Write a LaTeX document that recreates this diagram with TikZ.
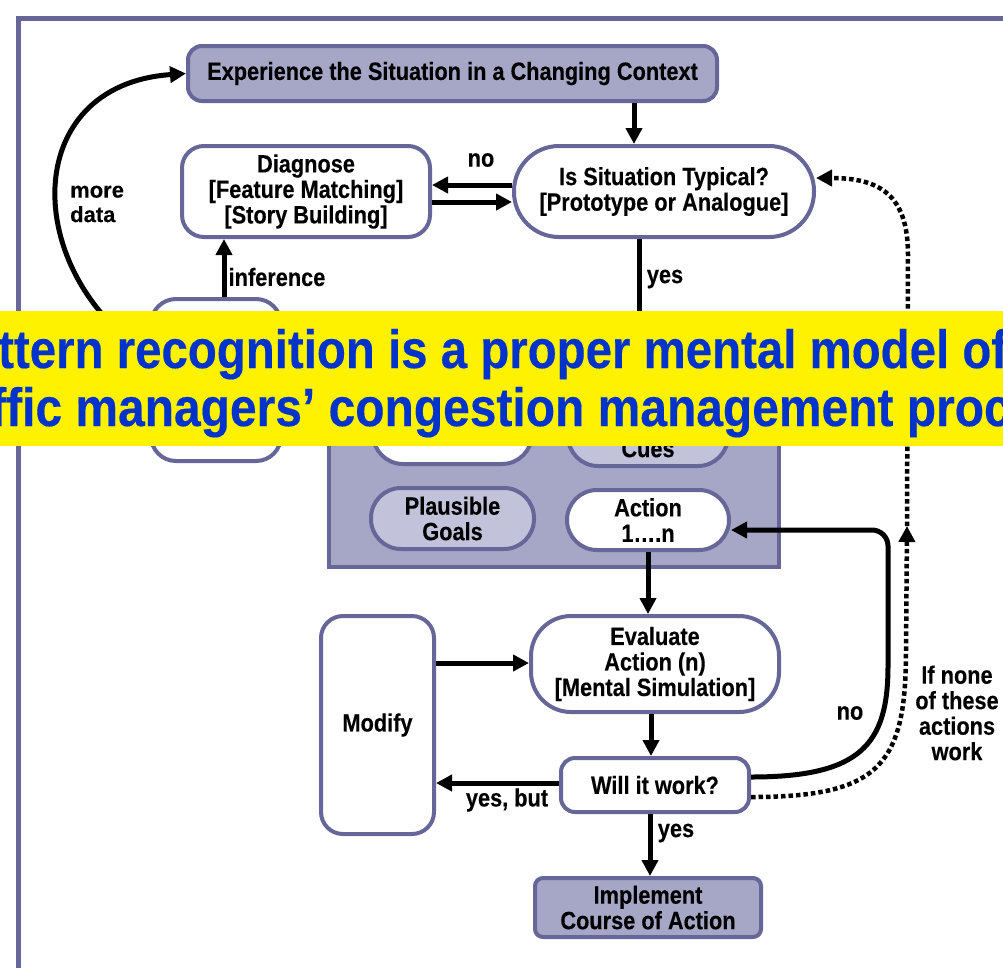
\documentclass[tikz,border=0pt]{standalone}
\usepackage{fontspec}
\setmainfont{Liberation Sans}[BoldFeatures={FakeBold=0.25}]
\newfontfamily\nfont[FakeStretch=0.87, BoldFeatures={FakeBold=0.25}]{Liberation Sans}
\newfontfamily\banfonta[FakeStretch=0.878, BoldFeatures={FakeBold=0.3}]{Liberation Sans}
\newfontfamily\banfontb[FakeStretch=0.888, BoldFeatures={FakeBold=0.3}]{Liberation Sans}
\usetikzlibrary{arrows.meta}
\definecolor{frm}{HTML}{666699}
\definecolor{dfill}{HTML}{A6A6C6}
\definecolor{lfill}{HTML}{C2C2DA}
\definecolor{bblue}{HTML}{0033CC}
\tikzset{
  box/.style={draw=frm, line width=4pt, rounded corners=#1, fill=white, align=center, inner sep=0pt,
    font=\nfont\bfseries\fontsize{25}{25.5}\selectfont},
  box/.default=20pt,
  arr/.style={line width=5pt, -{Triangle[length=16pt,width=16pt]}},
  dotline/.style={line width=4.5pt, dash pattern=on 4.5pt off 3pt},
  dothead/.style={-{Triangle[length=16pt,width=16pt]}},
  lbl/.style={font=\nfont\bfseries\fontsize{25}{25.5}\selectfont, inner sep=0pt, align=center},
  bann/.style={text=bblue, inner sep=0pt, anchor=base west}
}
\begin{document}
\begin{tikzpicture}[x=1pt,y=-1pt]
\useasboundingbox (0,0) rectangle (1003,967);
\clip (0,0) rectangle (1003,967);
\fill[white] (0,0) rectangle (1003,967);
% frame
\draw[frm, line width=5pt] (18,1000) -- (18,18) -- (1030,18);

% helper coordinates
\coordinate (cA) at (634,0);
\coordinate (cB) at (0,185);
\coordinate (cB2) at (0,202);
\coordinate (cC) at (639,0);
\coordinate (cI) at (224,0);
\coordinate (cM) at (0,663);
\coordinate (cW) at (0,783);
\coordinate (cE) at (651,0);
\coordinate (cL) at (650,0);
\coordinate (dtip) at (907,526);

% nodes
\node[box=14pt, fill=dfill, minimum width=529pt, minimum height=55pt] (exp) at (452.5,73.5) {Experience the Situation in a Changing Context};
\node[box=22pt, minimum width=248pt, minimum height=91pt] (diag) at (306,191.5) {Diagnose\\{}[Feature Matching]\\{}[Story Building]};
\node[box=45pt, minimum width=300pt, minimum height=91pt] (isit) at (664,191.5) {Is Situation Typical?\\{}[Prototype or Analogue]};
\node[box=25pt, minimum width=130pt, minimum height=162pt] (clar) at (216,380) {};
\node[draw=frm, line width=4pt, fill=dfill, minimum width=450pt, minimum height=236pt, inner sep=0pt] (recog) at (554,449) {};
\node[box=30pt, minimum width=159pt, minimum height=61pt] (expc) at (452.5,433.5) {Expectancies};
\node[box=30pt, fill=lfill, minimum width=160pt, minimum height=61pt] (cues) at (648,435.5) {Relevant\\Cues};
\node[box=30pt, fill=lfill, minimum width=163pt, minimum height=61pt] (goals) at (452.5,518.5) {Plausible\\Goals};
\node[box=30pt, minimum width=162pt, minimum height=60pt] (action) at (648,520) {Action\\1….n};
\node[box=40pt, minimum width=248pt, minimum height=96pt] (eval) at (655,664) {Evaluate\\Action (n)\\{}[Mental Simulation]};
\node[box=22pt, minimum width=113pt, minimum height=218pt] (modify) at (377.5,725) {Modify};
\node[box=14pt, minimum width=188pt, minimum height=54pt] (will) at (655,785) {Will it work?};
\node[box=8pt, fill=dfill, minimum width=226pt, minimum height=59pt] (impl) at (648,907.5) {Implement\\Course of Action};

% connectors
\draw[arr] (exp.south -| cA) -- (isit.north -| cA);
\draw[arr] (isit.west |- cB) -- (diag.east |- cB);
\draw[arr] (diag.east |- cB2) -- (isit.west |- cB2);
\draw[arr] (isit.south -| cC) -- (recog.north -| cC);
\draw[arr] (clar.north -| cI) -- (diag.south -| cI);
\draw[arr] (clar.160) .. controls (20,270) and (20,85) .. (exp.west);
\draw[arr] (action.south) -- (eval.north -| action.south);
\draw[arr] (modify.east |- cM) -- (eval.west |- cM);
\draw[arr] (eval.south -| cE) -- (will.north -| cE);
\draw[arr] (will.west |- cW) -- (modify.east |- cW);
\draw[arr] (will.south -| cL) -- (impl.north -| cL);
\draw[arr, rounded corners=16pt] ([yshift=8pt]will.east) .. controls (860,777) and (888,745) .. (888,650) -- (888,530) -- ([yshift=-10pt]action.east);
\draw[dotline, dothead] ([yshift=-12pt]will.east) .. controls (880,797) and (906,765) .. (906,650) -- (dtip);
\draw[dotline, dothead] (dtip) -- (908,255) .. controls (908,195) and (880,178) .. ([yshift=13.5pt]isit.east);

% labels
\node[lbl] (lno1) at (481,160) {no};
\node[lbl] (lyes1) at (665,279) {yes};
\node[lbl] (linf) at (277,277) {inference};
\node[font=\bfseries\fontsize{22}{24.5}\selectfont, inner sep=0pt, align=left, anchor=west] (lmore) at (70,204) {more\\data};
\node[lbl] (lyb) at (507,800) {yes, but};
\node[lbl] (lyes2) at (676,833) {yes};
\node[lbl] (lno2) at (850,713) {no};
\node[lbl] (lnone) at (957,713) {If none\\of these\\actions\\work};

% banner
\fill[yellow] (-5,311) rectangle (1010,446);
\node[bann, font=\banfonta\bfseries\fontsize{54}{58}\selectfont] (b1) at (-2,368) {ttern recognition is a proper mental model of};
\node[bann, font=\banfontb\bfseries\fontsize{54}{58}\selectfont] (b2) at (-10,426) {ffic managers’ congestion management proc};
\end{tikzpicture}
\end{document}
